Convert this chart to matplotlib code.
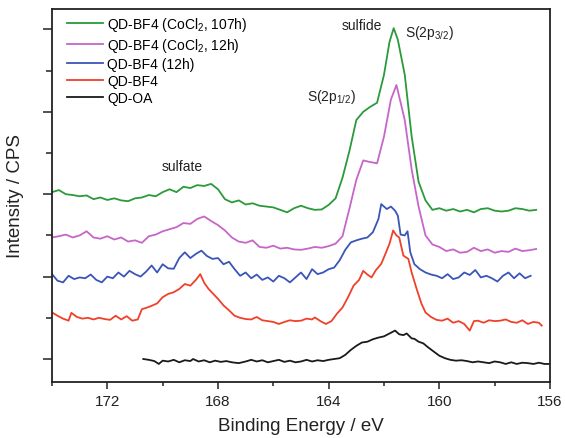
import matplotlib
matplotlib.use("Agg")
import matplotlib.pyplot as plt
from matplotlib.ticker import MultipleLocator

plt.rcParams['font.family'] = ['Liberation Sans', 'DejaVu Sans']
plt.rcParams['mathtext.fontset'] = 'custom'
plt.rcParams['mathtext.rm'] = 'Liberation Sans'
plt.rcParams['mathtext.it'] = 'Liberation Sans'
plt.rcParams['mathtext.default'] = 'regular'

# ---- data (binding energy in eV, intensity in offset arbitrary units) ----
green_E = [174.0, 173.75, 173.5, 173.25, 173.0, 172.75, 172.5, 172.25, 172.0, 171.75,
           171.5, 171.25, 171.0, 170.75, 170.5, 170.25, 170.0, 169.75, 169.5, 169.25,
           169.0, 168.75, 168.5, 168.25, 168.0, 167.75, 167.5, 167.25, 167.0, 166.75,
           166.5, 166.25, 166.0, 165.75, 165.5, 165.25, 165.0, 164.75, 164.5, 164.25,
           164.0, 163.75, 163.5, 163.25, 163.0, 162.75, 162.5, 162.25, 162.0, 161.8,
           161.65, 161.5, 161.25, 161.0, 160.75, 160.5, 160.25, 160.0, 159.75, 159.5,
           159.25, 159.0, 158.75, 158.5, 158.25, 158.0, 157.75, 157.5, 157.25, 157.0,
           156.75, 156.5]
green_I = [4.05, 4.10, 4.00, 3.98, 3.95, 3.97, 3.88, 3.92, 3.86, 3.90,
           3.85, 3.83, 3.90, 3.92, 3.98, 3.95, 4.05, 4.12, 4.05, 4.18,
           4.15, 4.22, 4.20, 4.25, 4.12, 3.88, 3.80, 3.85, 3.75, 3.78,
           3.72, 3.70, 3.68, 3.62, 3.56, 3.66, 3.72, 3.66, 3.62, 3.63,
           3.74, 3.90, 4.40, 5.05, 5.80, 6.00, 6.12, 6.22, 6.90, 7.70,
           8.03, 7.75, 6.90, 5.40, 4.30, 3.85, 3.62, 3.66, 3.60, 3.64,
           3.58, 3.62, 3.56, 3.64, 3.66, 3.60, 3.58, 3.60, 3.66, 3.64,
           3.60, 3.62]

pink_E = [174.0, 173.75, 173.5, 173.25, 173.0, 172.75, 172.5, 172.25, 172.0, 171.75,
          171.5, 171.25, 171.0, 170.75, 170.5, 170.25, 170.0, 169.75, 169.5, 169.25,
          169.0, 168.75, 168.5, 168.25, 168.0, 167.75, 167.5, 167.25, 167.0, 166.75,
          166.5, 166.25, 166.0, 165.75, 165.5, 165.25, 165.0, 164.75, 164.5, 164.25,
          164.0, 163.75, 163.5, 163.25, 163.0, 162.75, 162.5, 162.25, 162.0, 161.75,
          161.55, 161.25, 161.0, 160.75, 160.5, 160.25, 160.0, 159.75, 159.5, 159.25,
          159.0, 158.75, 158.5, 158.25, 158.0, 157.75, 157.5, 157.25, 157.0, 156.75,
          156.5]
pink_I = [2.95, 2.98, 3.02, 2.95, 3.00, 3.10, 2.95, 2.92, 2.98, 2.90,
          2.95, 2.85, 2.88, 2.82, 2.98, 3.02, 3.10, 3.15, 3.20, 3.30,
          3.28, 3.40, 3.46, 3.35, 3.25, 3.12, 2.95, 2.85, 2.82, 2.88,
          2.72, 2.70, 2.75, 2.68, 2.70, 2.66, 2.65, 2.68, 2.72, 2.70,
          2.74, 2.80, 2.98, 3.65, 4.35, 4.82, 4.78, 4.75, 5.40, 6.30,
          6.65, 5.80, 4.60, 3.70, 3.00, 2.78, 2.72, 2.62, 2.66, 2.58,
          2.60, 2.70, 2.62, 2.66, 2.58, 2.62, 2.60, 2.68, 2.62, 2.64,
          2.67]

blue_E = [174.0, 173.8, 173.6, 173.4, 173.2, 173.0, 172.8, 172.6, 172.4, 172.2,
          172.0, 171.8, 171.6, 171.4, 171.2, 171.0, 170.8, 170.6, 170.4, 170.2,
          170.0, 169.8, 169.6, 169.4, 169.2, 169.0, 168.8, 168.6, 168.4, 168.2,
          168.0, 167.8, 167.6, 167.4, 167.2, 167.0, 166.8, 166.6, 166.4, 166.2,
          166.0, 165.8, 165.6, 165.4, 165.2, 165.0, 164.8, 164.6, 164.4, 164.2,
          164.0, 163.8, 163.6, 163.4, 163.2, 163.0, 162.8, 162.6, 162.4, 162.2,
          162.1, 161.9, 161.75, 161.6, 161.5, 161.4, 161.25, 161.15, 161.05, 160.9,
          160.7, 160.5, 160.3, 160.1, 159.9, 159.7, 159.5, 159.3, 159.1, 158.9,
          158.7, 158.5, 158.3, 158.1, 157.9, 157.7, 157.5, 157.3, 157.1, 156.9,
          156.7]
blue_I = [2.06, 1.90, 1.86, 2.02, 1.94, 1.98, 1.96, 2.05, 1.92, 1.86,
          2.00, 1.96, 2.10, 2.00, 2.14, 2.06, 2.00, 2.12, 2.27, 2.10,
          2.30, 2.20, 2.19, 2.45, 2.59, 2.45, 2.55, 2.63, 2.50, 2.43,
          2.45, 2.30, 2.36, 2.18, 2.02, 2.10, 1.96, 2.05, 1.92, 1.98,
          1.88, 2.02, 1.96, 1.86, 1.98, 2.10, 1.94, 2.18, 2.06, 2.10,
          2.18, 2.22, 2.40, 2.65, 2.83, 2.88, 2.92, 2.95, 3.08, 3.40,
          3.76, 3.64, 3.70, 3.60, 3.48, 3.02, 3.00, 3.10, 2.59, 2.30,
          2.18, 2.10, 2.05, 2.02, 1.96, 2.06, 1.94, 1.98, 2.10, 2.04,
          2.16, 1.98, 2.02, 1.96, 1.88, 2.02, 2.10, 1.96, 2.08, 1.96,
          2.02]

red_E = [174.0, 173.8, 173.6, 173.4, 173.3, 173.1, 172.9, 172.7, 172.5, 172.3,
         172.1, 171.9, 171.7, 171.5, 171.3, 171.1, 170.9, 170.75, 170.6, 170.4,
         170.2, 170.0, 169.8, 169.6, 169.4, 169.2, 169.0, 168.8, 168.64, 168.5,
         168.34, 168.2, 168.0, 167.8, 167.6, 167.4, 167.2, 167.0, 166.8, 166.6,
         166.4, 166.2, 166.0, 165.8, 165.6, 165.4, 165.2, 165.0, 164.8, 164.6,
         164.5, 164.3, 164.1, 163.9, 163.7, 163.5, 163.3, 163.1, 162.9, 162.75,
         162.6, 162.45, 162.3, 162.1, 161.95, 161.8, 161.67, 161.55, 161.45, 161.3,
         161.12, 161.0, 160.82, 160.65, 160.5, 160.3, 160.1, 159.9, 159.7, 159.5,
         159.3, 159.1, 158.9, 158.75, 158.6, 158.4, 158.2, 158.0, 157.8, 157.6,
         157.4, 157.2, 157.0, 156.8, 156.6, 156.4, 156.3]
red_I = [1.13, 1.05, 0.98, 0.93, 1.12, 1.02, 0.98, 1.00, 0.96, 1.00,
         0.97, 0.95, 1.05, 0.96, 1.04, 0.93, 0.96, 1.21, 1.24, 1.29,
         1.35, 1.50, 1.58, 1.62, 1.70, 1.82, 1.78, 1.92, 2.06, 1.85,
         1.70, 1.60, 1.46, 1.30, 1.18, 1.05, 1.00, 0.97, 0.96, 1.02,
         0.94, 0.92, 0.90, 0.85, 0.90, 0.94, 0.92, 0.93, 0.98, 0.96,
         1.01, 0.92, 0.85, 0.92, 1.10, 1.25, 1.50, 1.78, 1.92, 2.14,
         2.05, 1.98, 2.15, 2.31, 2.55, 2.80, 3.12, 3.00, 2.95, 2.51,
         2.43, 2.10, 1.70, 1.35, 1.13, 1.02, 0.95, 0.93, 0.98, 0.88,
         0.92, 0.85, 0.69, 0.92, 0.93, 0.88, 0.94, 0.92, 0.93, 0.96,
         0.90, 0.88, 0.94, 0.85, 0.90, 0.88, 0.81]

black_E = [170.7, 170.5, 170.3, 170.14, 170.0, 169.8, 169.6, 169.4, 169.2, 169.0,
           168.9, 168.7, 168.5, 168.3, 168.1, 167.9, 167.7, 167.5, 167.25, 167.0,
           166.8, 166.6, 166.4, 166.2, 166.0, 165.8, 165.6, 165.4, 165.2, 165.0,
           164.8, 164.6, 164.4, 164.2, 164.0, 163.8, 163.6, 163.4, 163.2, 163.0,
           162.8, 162.6, 162.4, 162.2, 162.0, 161.8, 161.6, 161.45, 161.3, 161.18,
           161.0, 160.9, 160.75, 160.58, 160.4, 160.2, 160.0, 159.8, 159.6, 159.4,
           159.2, 159.0, 158.8, 158.6, 158.4, 158.2, 158.0, 157.8, 157.6, 157.4,
           157.2, 157.0, 156.8, 156.6, 156.4, 156.2, 156.0]
black_I = [0.00, -0.02, -0.05, -0.12, -0.04, -0.06, -0.02, -0.08, -0.03, -0.05,
           0.00, -0.06, -0.03, -0.08, -0.04, -0.07, -0.05, -0.08, -0.10, -0.06,
           -0.02, -0.06, -0.03, -0.08, -0.05, -0.02, -0.07, -0.04, -0.08, -0.06,
           -0.02, -0.06, -0.03, -0.05, -0.02, 0.00, 0.02, 0.10, 0.22, 0.32,
           0.40, 0.42, 0.48, 0.52, 0.55, 0.62, 0.69, 0.60, 0.58, 0.62,
           0.50, 0.49, 0.42, 0.38, 0.28, 0.18, 0.08, 0.02, -0.02, -0.04,
           -0.03, -0.05, -0.08, -0.06, -0.08, -0.10, -0.06, -0.08, -0.12, -0.08,
           -0.12, -0.09, -0.10, -0.12, -0.09, -0.12, -0.12]

labels = ['QD-BF4 (CoCl$_2$, 107h)', 'QD-BF4 (CoCl$_2$, 12h)', 'QD-BF4 (12h)', 'QD-BF4', 'QD-OA']
colors = ['#2a9a3a', '#c566c8', '#3a55b8', '#f0402a', '#1a1a1a']

fig = plt.figure(figsize=(5.65, 4.39), dpi=100)
ax = fig.add_axes([52/565, 1-383/439, (550-52)/565, (383-10)/439])

series = [(green_E, green_I), (pink_E, pink_I), (blue_E, blue_I), (red_E, red_I), (black_E, black_I)]
for (E, I), lab, c in zip(series, labels, colors):
    ax.plot(E, I, color=c, lw=1.3, label=lab)

ax.set_xlim(174, 156)
ax.set_ylim(-0.558, 8.495)
ax.xaxis.set_major_locator(MultipleLocator(4))
ax.xaxis.set_minor_locator(MultipleLocator(2))
ax.yaxis.set_major_locator(MultipleLocator(2))
ax.yaxis.set_minor_locator(MultipleLocator(1))
ax.set_xticks([172, 168, 164, 160, 156])
ax.set_yticklabels([])
ax.tick_params(axis='both', which='both', direction='out', top=False, right=False, width=1.1, colors='#222222')
ax.tick_params(axis='x', which='major', length=5, labelsize=11, pad=4)
ax.tick_params(axis='x', which='minor', length=3)
ax.tick_params(axis='y', which='major', length=6.5)
ax.tick_params(axis='y', which='minor', length=4.5)
for s in ax.spines.values():
    s.set_linewidth(1.3)
    s.set_color('#222222')

ax.set_xlabel('Binding Energy / eV', fontsize=13.5, labelpad=6, color='#222222')
ax.set_ylabel('Intensity / CPS', fontsize=13.5, labelpad=10, color='#222222')

leg = ax.legend(loc='upper left', bbox_to_anchor=(0.030, 0.985), frameon=False, fontsize=10,
                handlelength=2.6, handletextpad=0.3, labelspacing=0.22, borderaxespad=0.0,
                borderpad=0.0)

ax.text(169.3, 4.68, 'sulfate', fontsize=10, ha='center', va='center', color='#222222')
ax.text(162.8, 8.1, 'sulfide', fontsize=10, ha='center', va='center', color='#222222')
ax.text(160.34, 7.94, 'S(2p$_{3/2}$)', fontsize=10, ha='center', va='center', color='#222222')
ax.text(163.88, 6.38, 'S(2p$_{1/2}$)', fontsize=10, ha='center', va='center', color='#222222')

fig.savefig('out.png', dpi=100)
